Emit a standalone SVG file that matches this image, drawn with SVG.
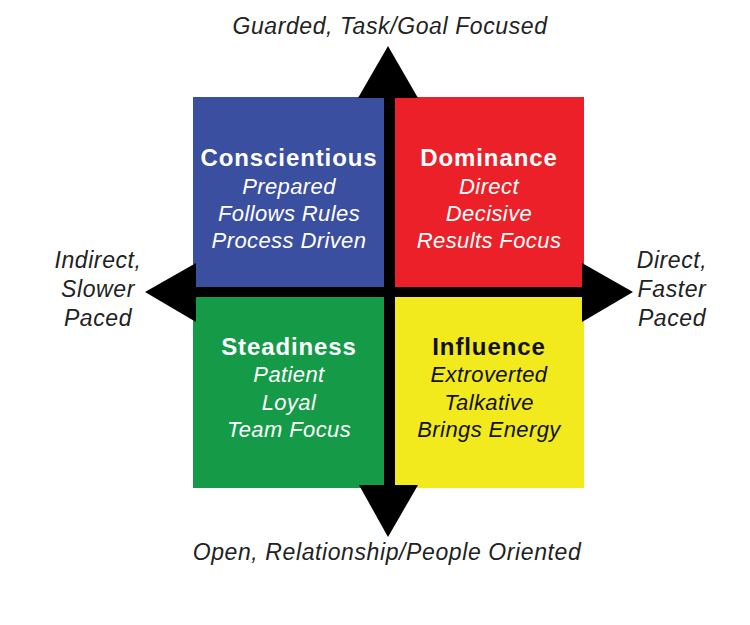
<svg xmlns="http://www.w3.org/2000/svg" width="750" height="625" viewBox="0 0 750 625">
  <style>
    .title { font-family: "Liberation Sans", Arial, sans-serif; font-weight: bold; font-size: 24px; letter-spacing: 0.9px; text-anchor: middle; }
    .item { font-family: "Liberation Sans", Arial, sans-serif; font-style: italic; font-size: 22px; letter-spacing: 0.4px; text-anchor: middle; }
    .axis { font-family: "Liberation Sans", Arial, sans-serif; font-style: italic; font-size: 23px; letter-spacing: 0.6px; text-anchor: middle; fill: #222; }
    .light { fill: #ffffff; }
    .dark { fill: #111111; }
  </style>
  <rect width="750" height="625" fill="#ffffff"/>
  <g id="conscientious">
    <rect x="193" y="97" width="192" height="190" fill="#3a4fa0"/>
    <text class="title light" x="289" y="166">Conscientious</text>
    <text class="item light" x="289" y="194">Prepared</text>
    <text class="item light" x="289" y="221">Follows Rules</text>
    <text class="item light" x="289" y="248">Process Driven</text>
  </g>
  <g id="dominance">
    <rect x="394" y="97" width="190" height="190" fill="#ec2028"/>
    <text class="title light" x="489" y="166">Dominance</text>
    <text class="item light" x="489" y="194">Direct</text>
    <text class="item light" x="489" y="221">Decisive</text>
    <text class="item light" x="489" y="248">Results Focus</text>
  </g>
  <g id="steadiness">
    <rect x="193" y="297" width="192" height="191" fill="#159a48"/>
    <text class="title light" x="289" y="355">Steadiness</text>
    <text class="item light" x="289" y="382">Patient</text>
    <text class="item light" x="289" y="410">Loyal</text>
    <text class="item light" x="289" y="437">Team Focus</text>
  </g>
  <g id="influence">
    <rect x="394" y="297" width="190" height="191" fill="#f2ea1d"/>
    <text class="title dark" x="489" y="355">Influence</text>
    <text class="item dark" x="489" y="382">Extroverted</text>
    <text class="item dark" x="489" y="410">Talkative</text>
    <text class="item dark" x="489" y="437">Brings Energy</text>
  </g>
  <g id="connectors" fill="#000000">
    <rect x="384" y="90" width="11" height="400"/>
    <rect x="190" y="287" width="397" height="10"/>
    <polygon points="358,98 418,98 388,46"/>
    <polygon points="359,485 418,485 388,537"/>
    <polygon points="196,263 196,322 145,292"/>
    <polygon points="582,263 582,322 633,292"/>
  </g>
  <g id="axis-top"><text class="axis" x="390" y="34">Guarded, Task/Goal Focused</text></g>
  <g id="axis-bottom"><text class="axis" x="387" y="560">Open, Relationship/People Oriented</text></g>
  <g id="axis-left">
    <text class="axis" x="98" y="268">Indirect,</text>
    <text class="axis" x="98" y="297">Slower</text>
    <text class="axis" x="98" y="326">Paced</text>
  </g>
  <g id="axis-right">
    <text class="axis" x="672" y="268">Direct,</text>
    <text class="axis" x="672" y="297">Faster</text>
    <text class="axis" x="672" y="326">Paced</text>
  </g>
</svg>
